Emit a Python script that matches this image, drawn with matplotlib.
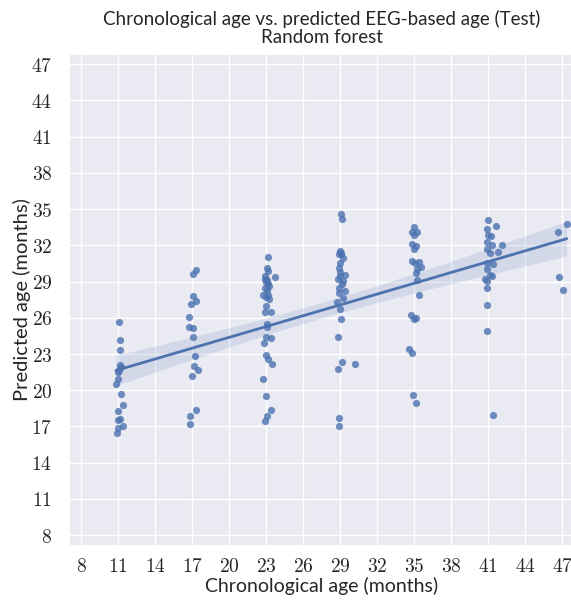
import matplotlib
matplotlib.use('Agg')
import matplotlib.pyplot as plt
import numpy as np
import seaborn as sns

# plotted (jittered) chronological ages and predicted ages
AGE_11 = [11.02, 11.16, 11.10, 11.16, 11.22, 11.08, 10.94, 10.97, 10.81, 11.24, 11.35, 11.00, 11.16, 11.00, 11.38, 10.97, 10.89]
PRED_11 = [25.66, 24.2, 23.35, 22.1, 21.9, 21.7, 21.5, 20.9, 20.5, 19.7, 18.8, 18.3, 17.6, 17.5, 17.0, 16.9, 16.5]

AGE_17 = [17.28, 17.04, 17.04, 17.28, 16.90, 16.74, 16.74, 17.04, 17.04, 17.23, 17.12, 17.47, 17.01, 17.31, 16.82, 16.82]
PRED_17 = [30.0, 29.6, 27.8, 27.4, 27.15, 26.1, 25.2, 25.17, 24.45, 22.8, 22.0, 21.7, 21.2, 18.35, 17.85, 17.2]

AGE_23 = [23.12, 23.04, 23.12, 22.90, 23.71, 22.90, 22.98, 23.12, 22.90, 23.04, 22.76, 23.17, 23.25, 22.98, 22.90,
          23.39, 23.04, 23.04, 22.98, 23.36, 22.85, 22.96, 23.17, 23.44, 22.72, 22.96, 23.36, 23.04, 22.90,
          23.07, 23.22, 23.00]
PRED_23 = [31.0, 30.1, 29.9, 29.47, 29.34, 29.2, 28.97, 28.76, 28.5, 28.3, 27.93, 27.9, 27.54, 26.94, 26.5,
           26.47, 25.47, 25.2, 24.45, 24.3, 23.9, 22.9, 22.6, 22.15, 20.97, 19.5, 18.4, 17.85, 17.44,
           29.1, 28.6, 27.7]

AGE_29 = [29.04, 29.12, 28.98, 28.90, 29.04, 29.25, 28.98, 28.92, 29.38, 28.98, 28.84, 29.25, 28.90, 29.38,
          28.92, 29.20, 28.76, 28.98, 29.08, 28.84, 29.13, 30.22, 28.79, 28.92, 28.90, 29.10, 29.00, 29.15]
PRED_29 = [34.58, 34.17, 31.54, 31.3, 31.25, 30.96, 30.55, 30.13, 29.53, 29.45, 29.25, 29.06, 28.51, 28.23,
           28.06, 27.6, 27.27, 26.7, 25.89, 24.37, 22.35, 22.16, 21.74, 17.7, 17.0, 31.4, 29.8, 28.8]

AGE_35 = [35.00, 34.79, 35.24, 35.00, 34.84, 35.14, 35.00, 34.79, 35.41, 35.06, 35.52, 35.24, 35.14, 35.24,
          35.41, 34.71, 35.11, 35.00, 34.60, 34.79, 34.92, 35.11]
PRED_35 = [33.53, 33.12, 33.07, 32.84, 32.15, 31.96, 31.68, 30.71, 30.63, 30.5, 30.22, 30.08, 29.67, 29.17,
           27.93, 26.27, 26.0, 25.86, 23.4, 23.05, 19.6, 18.96]

AGE_41 = [41.00, 41.60, 40.92, 41.00, 41.19, 40.92, 42.08, 41.27, 40.92, 41.81, 41.14, 40.87, 41.40, 40.92,
          41.14, 41.32, 40.73, 40.92, 40.92, 40.92, 40.87, 41.40]
PRED_41 = [34.08, 33.61, 33.39, 32.84, 32.76, 32.29, 32.0, 32.0, 31.66, 31.46, 31.38, 30.5, 30.42, 30.03,
           29.53, 29.45, 29.2, 29.03, 28.43, 27.1, 24.92, 17.96]

AGE_47 = [46.69, 47.37, 46.74, 47.07]
PRED_47 = [33.12, 33.73, 29.42, 28.31]

TICKS = list(range(8, 48, 3))

sns.set_theme(style='darkgrid')
plt.rcParams['font.family'] = ['Lato', 'DejaVu Sans']
plt.rcParams['mathtext.fontset'] = 'cm'

x = np.array(AGE_11 + AGE_17 + AGE_23 + AGE_29 + AGE_35 + AGE_41 + AGE_47)
y = np.array(PRED_11 + PRED_17 + PRED_23 + PRED_29 + PRED_35 + PRED_41 + PRED_47)

fig = plt.figure(figsize=(5.71, 6.04), dpi=100)
ax = fig.add_axes([69 / 571, 58 / 604, 505.5 / 571, 492 / 604])

blue = sns.color_palette('deep')[0]
ax.scatter(x, y, s=27, color=blue, alpha=0.8, linewidths=0, zorder=3)

# linear fit with 95% confidence band of the mean
slope, icpt = np.polyfit(x, y, 1)
xs = np.linspace(x.min(), x.max(), 100)
ys = slope * xs + icpt
resid = y - (slope * x + icpt)
n = len(x)
s_err = np.sqrt(np.sum(resid ** 2) / (n - 2))
se = s_err * np.sqrt(1 / n + (xs - x.mean()) ** 2 / np.sum((x - x.mean()) ** 2))
ax.fill_between(xs, ys - 1.97 * se, ys + 1.97 * se, color=blue, alpha=0.15, linewidth=0, zorder=2)
ax.plot(xs, ys, color=blue, lw=2, zorder=4)

ax.set_xlim(7, 48)
ax.set_ylim(7.1, 47.85)
ax.set_xticks(TICKS)
ax.set_yticks(TICKS)
ax.set_xticklabels([f'${t}$' for t in TICKS], fontsize=14)
ax.set_yticklabels([f'${t}$' for t in TICKS], fontsize=14)
ax.tick_params(axis='x', pad=2)
ax.tick_params(axis='y', pad=6)

ax.set_xlabel('Chronological age (months)', fontsize=14, labelpad=1)
ax.set_ylabel('Predicted age (months)', fontsize=14.5, labelpad=0)
ax.set_title('Chronological age vs. predicted EEG-based age (Test)\nRandom forest', fontsize=13.5, linespacing=1.05, pad=8)

fig.savefig('out.png', dpi=100)
